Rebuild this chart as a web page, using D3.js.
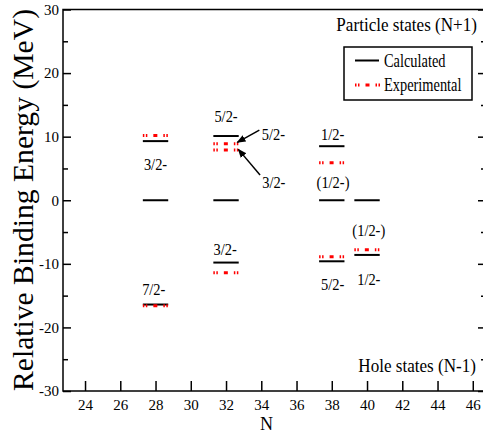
<!DOCTYPE html>
<html><head><meta charset="utf-8">
<script src="https://cdn.jsdelivr.net/npm/d3@7/dist/d3.min.js"></script>
<style>
body{margin:0;background:#fff}
svg{display:block}
</style>
</head><body>
<svg id="c" width="483" height="434"></svg>
<script>
// ---- data ----
const xTicks = [24,26,28,30,32,34,36,38,40,42,44,46];
const yTicks = [-30,-20,-10,0,10,20,30];
const yMinorTicks = [-25,-15,-5,5,15,25];

const calcN = [28,28,28,32,32,32,38,38,38,40,40];
const calcE = [9.3,0,-16.4,10.1,0,-9.8,8.5,0,-9.6,0,-8.6];

const expN = [28,28,32,32,32,38,38,40];
const expE = [10.2,-16.6,8.9,7.9,-11.4,5.9,-8.9,-7.8];

const labelText = ["3/2-","7/2-","5/2-","3/2-","5/2-","3/2-","1/2-","(1/2-)","5/2-","(1/2-)","1/2-"];
const labelN    = [28,27.9,32,31.95,34.03,34.05,38.05,38.07,38.05,40.1,40.1];
const labelE    = [4.75,-14.9,12.3,-8.6,9.55,1.9,9.4,1.85,-14.1,-5.7,-13.3];
const labelAnchor = ["middle","middle","middle","middle","start","start","middle","middle","middle","middle","middle"];

const arrowFromN = [33.89,33.93];
const arrowFromE = [11.04,3.96];
const arrowToN   = [32.64,32.70];
const arrowToE   = [9.1,8.0];

const legendNames = ["Calculated","Experimental"];

// ---- layout ----
const FONT = '"Liberation Serif", Tinos, "Times New Roman", serif';
const svg = d3.select("#c").attr("font-family", FONT);
const x = d3.scaleLinear().domain([22.75,46.75]).range([63,486]);
const y = d3.scaleLinear().domain([-30,30]).range([391,9.5]);
const halfW = 0.72;
const expDash = "1.5,1.5,1.5,6,4,6,1.5,1.5,1.5,60";

function txt(g, px, py, str, size, anchor, sx){
  return g.append("text")
    .attr("transform",`translate(${px},${py}) scale(${sx},1)`)
    .attr("text-anchor",anchor)
    .attr("font-family",FONT)
    .attr("font-size",size)
    .attr("fill","#000")
    .text(str);
}

// frame
svg.append("rect").attr("x",x(22.75)).attr("y",y(30))
  .attr("width",x(46.75)-x(22.75)).attr("height",y(-30)-y(30))
  .attr("fill","none").attr("stroke","#000").attr("stroke-width",1.5);

const fmt = d => String(d);
// bottom axis
const gx = svg.append("g").attr("transform",`translate(0,${y(-30)})`)
  .call(d3.axisBottom(x).tickValues(xTicks).tickFormat(fmt).tickSizeInner(-10).tickSizeOuter(0).tickPadding(8));
// left axis
const gy = svg.append("g").attr("transform",`translate(${x(22.75)},0)`)
  .call(d3.axisLeft(y).tickValues(yTicks).tickFormat(fmt).tickSizeInner(-8).tickSizeOuter(0).tickPadding(4));
const gym = svg.append("g").attr("transform",`translate(${x(22.75)},0)`)
  .call(d3.axisLeft(y).tickValues(yMinorTicks).tickSizeInner(-5).tickSizeOuter(0).tickFormat(""));
// right axis ticks
const gyr = svg.append("g").attr("transform",`translate(${x(46.75)},0)`)
  .call(d3.axisRight(y).tickValues(yTicks).tickSizeInner(-8).tickSizeOuter(0).tickFormat(""));
const gyrm = svg.append("g").attr("transform",`translate(${x(46.75)},0)`)
  .call(d3.axisRight(y).tickValues(yMinorTicks).tickSizeInner(-5).tickSizeOuter(0).tickFormat(""));

[gx,gy,gym,gyr,gyrm].forEach(g=>{
  g.attr("font-family",FONT);
  g.select(".domain").remove();
  g.selectAll(".tick line").attr("stroke","#000").attr("stroke-width",1.5);
  g.selectAll(".tick text").attr("font-family",FONT).attr("font-size",15).attr("fill","#000");
});

// axis titles
txt(svg, x(34.3), 429.5, "N", 19, "middle", 0.95);
svg.append("text").attr("transform","translate(33,200) rotate(-90)")
  .attr("text-anchor","middle").attr("font-family",FONT).attr("font-size",29).attr("fill","#000")
  .attr("textLength",382).attr("lengthAdjust","spacingAndGlyphs")
  .text("Relative Binding Energy (MeV)");

// state labels
txt(svg, 477, 31, "Particle states (N+1)", 18, "end", 0.95);
txt(svg, 476, 371.5, "Hole states (N-1)", 18, "end", 0.95);

// calculated levels
svg.append("g").selectAll("line").data(calcN.map((n,i)=>({n,e:calcE[i]}))).join("line")
  .attr("x1",d=>x(d.n-halfW)).attr("x2",d=>x(d.n+halfW))
  .attr("y1",d=>y(d.e)).attr("y2",d=>y(d.e))
  .attr("stroke","#000").attr("stroke-width",2);

// experimental levels
svg.append("g").selectAll("line").data(expN.map((n,i)=>({n,e:expE[i]}))).join("line")
  .attr("x1",d=>x(d.n-halfW)).attr("x2",d=>x(d.n+halfW))
  .attr("y1",d=>y(d.e)).attr("y2",d=>y(d.e))
  .attr("stroke","#ff0000").attr("stroke-width",3).attr("stroke-dasharray",expDash);

// level labels
const gl = svg.append("g");
labelText.forEach((t,i)=>{
  txt(gl, x(labelN[i]), y(labelE[i]), t, 17, labelAnchor[i], 0.85);
});

// arrows
svg.append("defs").append("marker").attr("id","ah")
  .attr("viewBox","0 0 10 10").attr("refX",9).attr("refY",5)
  .attr("markerWidth",9).attr("markerHeight",9).attr("markerUnits","userSpaceOnUse")
  .attr("orient","auto")
  .append("path").attr("d","M0,1 L10,5 L0,9 Z").attr("fill","#000");
svg.append("g").selectAll("line").data(arrowFromN.map((n,i)=>i)).join("line")
  .attr("x1",i=>x(arrowFromN[i])).attr("y1",i=>y(arrowFromE[i]))
  .attr("x2",i=>x(arrowToN[i])).attr("y2",i=>y(arrowToE[i]))
  .attr("stroke","#000").attr("stroke-width",1.5).attr("marker-end","url(#ah)");

// legend
const lg = svg.append("g");
lg.append("rect").attr("x",344).attr("y",47).attr("width",128).attr("height",53)
  .attr("fill","#fff").attr("stroke","#000").attr("stroke-width",1.5);
lg.append("line").attr("x1",355).attr("x2",379).attr("y1",60.5).attr("y2",60.5)
  .attr("stroke","#000").attr("stroke-width",2);
lg.append("line").attr("x1",355).attr("x2",380).attr("y1",85).attr("y2",85)
  .attr("stroke","#ff0000").attr("stroke-width",3).attr("stroke-dasharray",expDash);
txt(lg, 384, 66.5, legendNames[0], 18, "start", 0.8);
txt(lg, 384, 90.5, legendNames[1], 18, "start", 0.8);
</script>
</body></html>
